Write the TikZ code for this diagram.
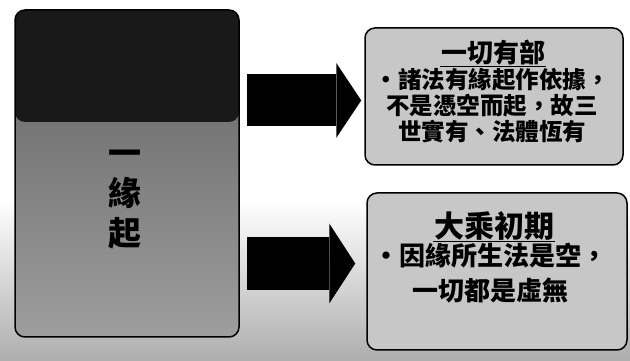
\documentclass[tikz,border=0pt]{standalone}
\usepackage{fontspec}
\newfontfamily\cjk{Noto Sans CJK TC}
\usetikzlibrary{arrows.meta}
\tikzstyle{yuanqiChart}=[%
	x=1pt, y=1pt,
	myBox/.style={%
		draw=black,
		line width=1.5pt,
		rounded corners=10pt,
		fill=black!22
	},
	myTitle/.style={%
		font=\cjk\bfseries\fontsize{##1}{##1}\selectfont,
		inner sep=1pt
	},
	myText/.style={%
		font=\cjk\bfseries\fontsize{24pt}{26pt}\selectfont,
		align=center
	},
	bigArrow/.style={%
		draw=black,
		line width=##1,
		shorten <=7pt
	}
]

\begin{document}
\begin{tikzpicture}[yuanqiChart]
	\useasboundingbox (0,0) rectangle (630,361);
	\fill[white] (0,0) rectangle (630,361);
	\shade[top color=white, bottom color=black!32] (0,0) rectangle (630,160);

	% left box
	\node[myBox, fill=none, minimum width=224pt, minimum height=327pt,
		path picture={
			\shade[top color=black!62, bottom color=black!38]
				(path picture bounding box.south west) rectangle (path picture bounding box.north east);
			\fill[black!90] ([yshift=-112pt]path picture bounding box.north west)
				rectangle (path picture bounding box.north east);
		}] (lbox) at (127,187.5) {};
	\node[myText, font=\cjk\bfseries\fontsize{33pt}{40pt}\selectfont] (ltext) at (125,161)
		{一\\緣\\起};

	% right boxes
	\node[myBox, minimum width=258pt, minimum height=137pt] (tbox) at (494,264.5) {};
	\node[myTitle=26pt] (ttitle) at (493,308) {一切有部};
	\draw[line width=1.2pt] (ttitle.south west) -- (ttitle.south east);
	\node[myText, font=\cjk\bfseries\fontsize{23.5pt}{26pt}\selectfont] (ttext) at (492,255)
		{•諸法有緣起作依據，\\不是憑空而起，故三\\世實有、法體恆有};

	\node[myBox, minimum width=260pt, minimum height=157pt] (bbox) at (497,89.5) {};
	\node[myTitle=30pt] (btitle) at (494,135) {大乘初期};
	\draw[line width=1.2pt] (btitle.south west) -- (btitle.south east);
	\node[myText, font=\cjk\bfseries\fontsize{26pt}{35pt}\selectfont] (btext) at (490,88)
		{•因緣所生法是空，\\一切都是虛無};

	% arrows
	\coordinate (a1) at ([yshift=-4pt]tbox.west);
	\coordinate (a2) at ([yshift=8pt]bbox.west);
	\draw[bigArrow=52pt, shorten >=3pt,
		-{Triangle[length=25pt, width=75pt, line width=0pt]}] (lbox.east |- a1) -- (a1);
	\draw[bigArrow=53pt, shorten >=11pt,
		-{Triangle[length=26pt, width=80pt, line width=0pt]}] (lbox.east |- a2) -- (a2);
\end{tikzpicture}
\end{document}
